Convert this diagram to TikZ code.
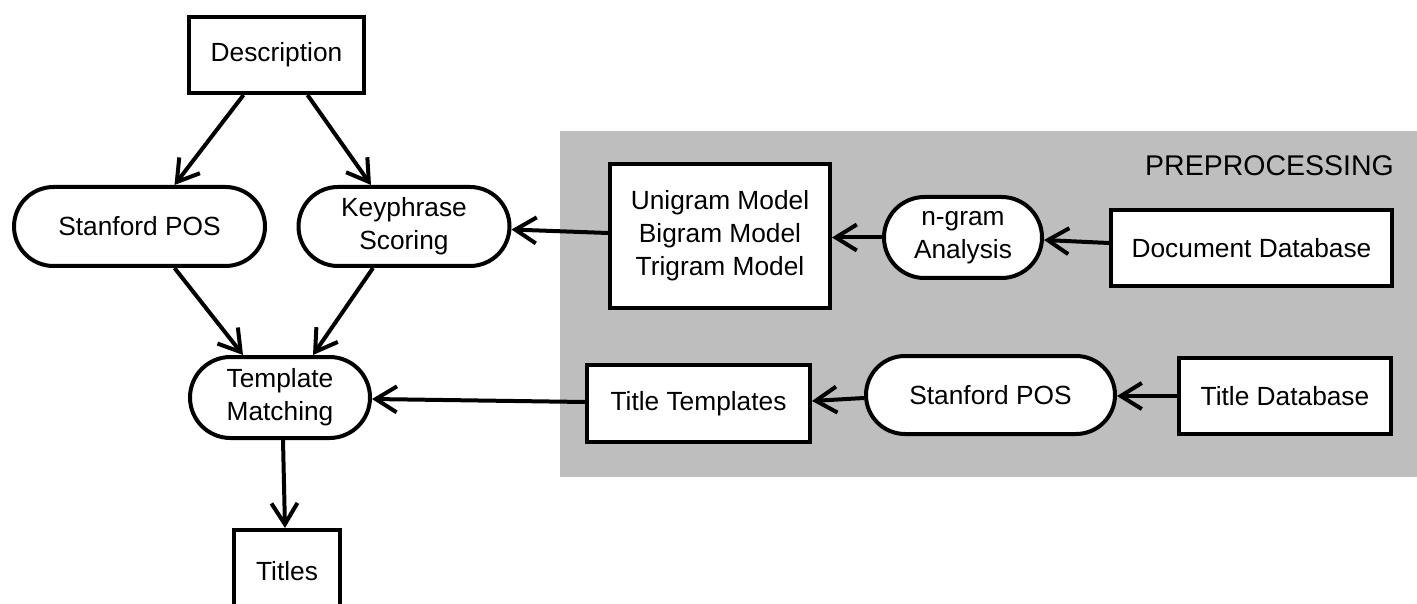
\documentclass[tikz,border=0pt]{standalone}
\usepackage{fontspec}
\setmainfont{Liberation Sans}
\usetikzlibrary{arrows.meta,shapes.misc}
\definecolor{prepgray}{RGB}{190,190,190}
\begin{document}
\begin{tikzpicture}[x=1pt,y=-1pt,
  every node/.style={font=\fontsize{26.3}{33}\selectfont, align=center, inner sep=0pt},
  box/.style={draw, line width=4pt, fill=white, rectangle},
  pill/.style={draw, line width=4pt, fill=white, rounded rectangle},
  flow/.style={line width=4pt, -{Straight Barb[length=21pt,width=26pt,line width=4pt]}}
]
\useasboundingbox (0,0) rectangle (1417,604);

% preprocessing panel
\fill[prepgray] (560,131) rectangle (1417,477);
\node[font=\fontsize{28.5}{33}\selectfont, anchor=base east] (prep) at (1394,176) {PREPROCESSING};

% main pipeline
\node[box, minimum width=175, minimum height=76] (desc) at (276.5,55) {Description};
\node[pill, minimum width=251, minimum height=79] (spos) at (139.5,226.5) {Stanford POS};
\node[pill, minimum width=211, minimum height=79] (key) at (404,226.5) {Keyphrase\\Scoring};
\node[pill, minimum width=180, minimum height=81] (tm) at (280,397.5) {Template\\Matching};
\node[box, minimum width=106, minimum height=82, text depth=0pt] (titles) at (287,571) {Titles};

% preprocessing nodes
\node[box, minimum width=220, minimum height=144] (uni) at (720,236) {Unigram Model\\Bigram Model\\Trigram Model};
\node[pill, minimum width=158, minimum height=81] (ngram) at (963,237.5) {n-gram\\Analysis};
\node[box, minimum width=281, minimum height=76] (doc) at (1251.5,248) {Document Database};
\node[box, minimum width=223, minimum height=77] (tt) at (698.5,403.5) {Title Templates};
\node[pill, minimum width=249, minimum height=78] (spos2) at (990.5,395) {Stanford POS};
\node[box, minimum width=212, minimum height=76] (tdb) at (1285,396) {Title Database};

% connectors
\draw[flow] ([xshift=-33pt]desc.south) -- ([xshift=35pt]spos.north);
\draw[flow] ([xshift=31pt]desc.south) -- ([xshift=-33pt]key.north);
\draw[flow] ([xshift=35pt]spos.south) -- ([xshift=-37pt]tm.north);
\draw[flow] ([xshift=-31pt]key.south) -- ([xshift=33pt]tm.north);
\draw[flow] ([xshift=3pt]tm.south) -- ([xshift=-2pt]titles.north);
\draw[flow] ([yshift=3pt]uni.west) -- ([yshift=-3pt]key.east);
\draw[flow] (ngram.west) -- (ngram.west -| uni.east);
\draw[flow] ([yshift=5pt]doc.west) -- ([yshift=-2.5pt]ngram.east);
\draw[flow] ([yshift=1.5pt]tt.west) -- ([yshift=-1.5pt]tm.east);
\draw[flow] ([yshift=-3pt]spos2.west) -- ([yshift=2.5pt]tt.east);
\draw[flow] (tdb.west) -- (tdb.west -| spos2.east);
\end{tikzpicture}
\end{document}
